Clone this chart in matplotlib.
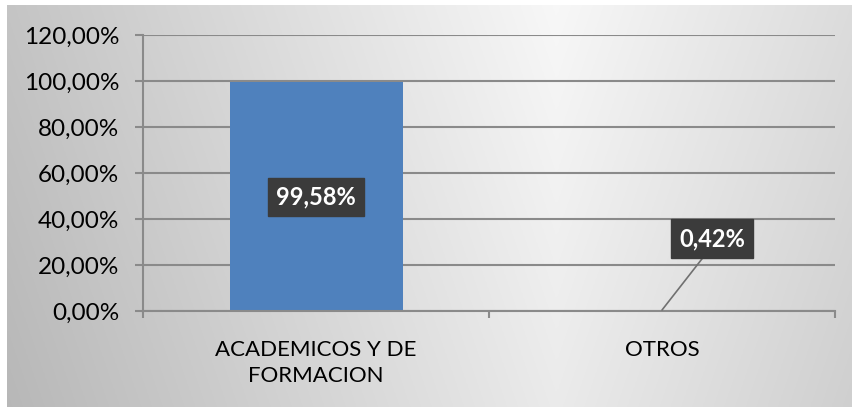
import numpy as np
import matplotlib
matplotlib.use("Agg")
import matplotlib.pyplot as plt
from matplotlib.ticker import FuncFormatter

categories = ["ACADEMICOS Y DE\nFORMACION", "OTROS"]
values = [99.58, 0.42]
labels = ["99,58%", "0,42%"]
yticks = [0, 20, 40, 60, 80, 100, 120]

W, H = 853, 407
fig = plt.figure(figsize=(W/100, H/100), dpi=100)
plt.rcParams['font.family'] = ['Lato', 'DejaVu Sans']

# background gradient
bg = fig.add_axes([0, 0, 1, 1], zorder=-10)
bg.set_axis_off()
xs = np.linspace(0, 1, 400)
ys = np.linspace(0, 1, 200)
X, Y = np.meshgrid(xs, ys)
val = 0.97 - 0.20 * np.abs(X - 0.65) / 0.65 - 0.05 * Y
img = np.dstack([val, val, val])
bg.imshow(img, extent=[7/W, 1, 0, 1 - 5/H], aspect='auto', origin='upper')
bg.set_xlim(0, 1)
bg.set_ylim(0, 1)

left, right = 143/W, 835/W
bottom, top = 1 - 311/H, 1 - 35/H
ax = fig.add_axes([left, bottom, right-left, top-bottom])
ax.set_facecolor('none')

x = np.arange(len(categories))
ax.bar(x, values, width=0.5, color='#4f81bd', zorder=3)
ax.set_xlim(-0.5, 1.5)
ax.set_ylim(0, 120)
ax.set_yticks(yticks)
ax.yaxis.set_major_formatter(FuncFormatter(lambda v, p: f"{v:.2f}%".replace('.', ',')))
ax.grid(axis='y', color='#8a8a8a', linewidth=1.5, zorder=1)
ax.set_xticks([-0.5, 0.5, 1.5], minor=False)
ax.set_xticklabels([])
ax.set_xticks(x, minor=True)
ax.set_xticklabels(categories, minor=True, fontsize=16, linespacing=1.35)
ax.tick_params(axis='x', which='minor', length=0, pad=21)
ax.tick_params(axis='x', which='major', length=5, color='#8a8a8a', width=1.5)
ax.tick_params(axis='y', length=6, color='#8a8a8a', width=1.5, labelsize=17.5, pad=11)
for s in ['top', 'right']:
    ax.spines[s].set_visible(False)
for s in ['left', 'bottom']:
    ax.spines[s].set_color('#8a8a8a')
    ax.spines[s].set_linewidth(1.5)
    ax.spines[s].set_zorder(4)

box = dict(boxstyle='square,pad=0.33', fc='#3b3b3b', ec='#3b3b3b')
ax.annotate(labels[0], xy=(x[0], 49.6), ha='center', va='center', color='white',
            fontsize=17, fontweight='bold', bbox=box, zorder=5)
ax.annotate(labels[1], xy=(x[1], values[1]), xytext=(x[1] + 0.145, 31.5),
            ha='center', va='center', color='white', fontsize=17, fontweight='bold',
            bbox=box, zorder=5,
            arrowprops=dict(arrowstyle='-', color='#707070', lw=1.2,
                            shrinkA=0, shrinkB=0, relpos=(0.45, 0)))

fig.savefig('out.png', dpi=100)
